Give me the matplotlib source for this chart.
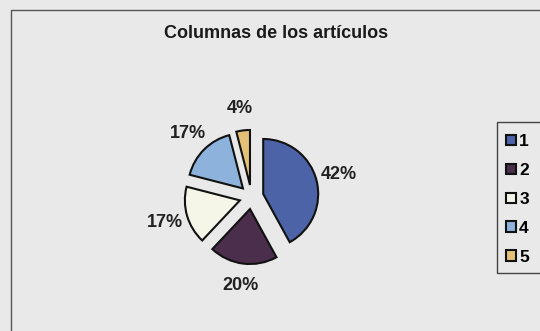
import matplotlib.pyplot as plt
from matplotlib.patches import Rectangle

categories = ['1', '2', '3', '4', '5']
values = [42, 20, 17, 17, 4]
colors = ['#4d63a8', '#4a2e4c', '#f6f6e8', '#8db3dc', '#e3c278']
title = 'Columnas de los artículos'

plt.rcParams['font.family'] = ['Liberation Sans', 'DejaVu Sans']

W, H = 540, 331
fig = plt.figure(figsize=(W / 100, H / 100), dpi=100, facecolor='#e9e9e9')

# outer chart frame (runs off the right and bottom edge)
fig.patches.append(Rectangle((11 / W, -0.1), 1.2, 1 - 10 / H + 0.1,
                             transform=fig.transFigure, fill=False,
                             edgecolor='#555555', lw=1))
# legend frame
fig.patches.append(Rectangle((497 / W, 1 - 273 / H), 0.2, 151 / H,
                             transform=fig.transFigure, fill=False,
                             edgecolor='#444444', lw=1))

fig.text(276 / W, 1 - 33 / H, title, ha='center', va='center',
         fontsize=13, fontweight='bold', color='#1a1a1a')

# pie axes: radius 1 -> 55 px, centre at (251.5, 197) px
ax = fig.add_axes([152.5 / W, 35 / H, 198 / W, 198 / H])
wedges, texts, autotexts = ax.pie(
    values, colors=colors, startangle=90, counterclock=False,
    explode=[0.22] * len(values), autopct='%1.0f%%', pctdistance=1.41,
    wedgeprops=dict(edgecolor='#111111', linewidth=1.5),
    textprops=dict(fontsize=13, fontweight='bold', color='#222222'))
ax.set_xlim(-1.8, 1.8)
ax.set_ylim(-1.8, 1.8)
ax.set_aspect('equal')
ax.axis('off')

fig.legend(wedges, categories, loc='upper left',
           bbox_to_anchor=(494 / W, 1 - 122 / H), frameon=False,
           prop=dict(size=12.5, weight='bold'),
           handlelength=0.55, handleheight=0.55,
           handletextpad=0.2, labelspacing=0.8, borderpad=0.2)

fig.savefig('out.png', dpi=100, facecolor=fig.get_facecolor())
